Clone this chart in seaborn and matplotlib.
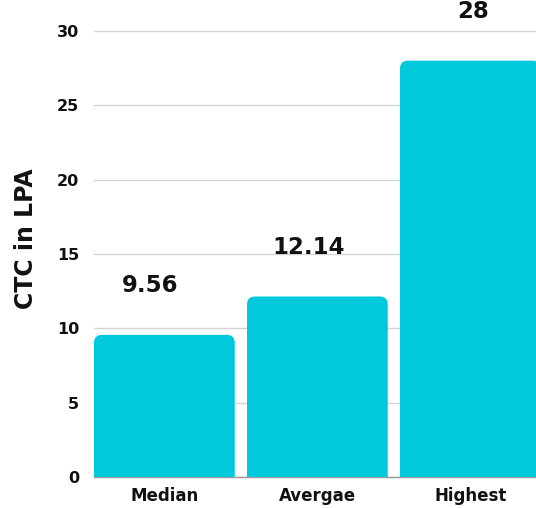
import matplotlib
matplotlib.use("Agg")
import matplotlib.pyplot as plt
import seaborn as sns
import pandas as pd
from matplotlib.patches import FancyBboxPatch

categories = ["Median", "Avergae", "Highest"]
values = [9.56, 12.14, 28]
value_labels = ["9.56", "12.14", "28"]
yticks = [0, 5, 10, 15, 20, 25, 30]

sns.set_theme(style="white")
plt.rcParams["font.family"] = ["DejaVu Sans"]

fig = plt.figure(figsize=(5.36, 5.08), dpi=100)
ax = fig.add_axes([94/536, 31/508, 1 - 94/536, 477/508])

df = pd.DataFrame({"cat": categories, "val": values})
color = "#00C9DB"
sns.barplot(data=df, x="cat", y="val", color=color, width=0.92, saturation=1, ax=ax, zorder=3)

# replace rectangles with rounded-top bars
px_per_x = 153.0
px_per_y = 477.0 / 32.08
r_px = 8
rx = r_px / px_per_x
aspect = (r_px / px_per_y) / rx
for p in list(ax.patches):
    x, w, h = p.get_x(), p.get_width(), p.get_height()
    p.set_visible(False)
    fb = FancyBboxPatch((x + rx, -2), w - 2 * rx, h + 2 - r_px / px_per_y,
                        boxstyle=f"round,pad={rx},rounding_size={rx}",
                        mutation_aspect=aspect, facecolor=color, edgecolor="none",
                        zorder=3, clip_on=True)
    ax.add_patch(fb)

label_dx = [-10, -6, 2]  # small horizontal nudges (points)
for i, (v, lab) in enumerate(zip(values, value_labels)):
    ax.annotate(lab, xy=(i, v + 3.3), xytext=(label_dx[i], 0), textcoords="offset points",
                ha="center", va="center", fontsize=16.5,
                fontweight="bold", color="#111111", zorder=4)

ax.set_xlim(-0.46, 2.429)
ax.set_ylim(0, 32.08)
ax.set_yticks(yticks)
ax.set_yticklabels([str(t) for t in yticks], fontsize=11.5, fontweight="bold", color="#111111")
ax.tick_params(axis="y", length=0, pad=10.5)
ax.tick_params(axis="x", length=0, pad=7.5)
for lbl in ax.get_xticklabels():
    lbl.set_fontsize(12)
    lbl.set_fontweight("bold")
    lbl.set_color("#111111")
ax.set_xlabel("")
ax.set_ylabel("CTC in LPA", fontsize=17, fontweight="bold", color="#111111", labelpad=14)
ax.yaxis.grid(True, color="#d4d4d4", linewidth=1, zorder=0)
ax.set_axisbelow(True)
for s in ["top", "right", "left"]:
    ax.spines[s].set_visible(False)
ax.spines["bottom"].set_color("#9a9a9a")
ax.spines["bottom"].set_linewidth(1)
ax.spines["bottom"].set_zorder(2)

fig.savefig("out.png", dpi=100)
